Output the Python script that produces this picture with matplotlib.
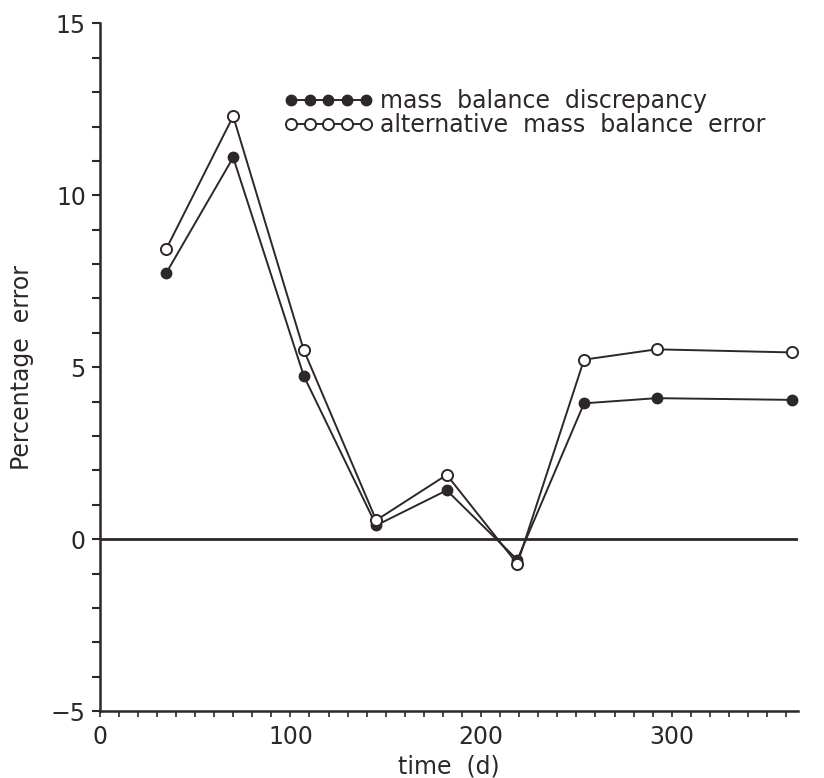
import matplotlib
matplotlib.use("Agg")
import matplotlib.pyplot as plt
from matplotlib.ticker import MultipleLocator

# Data
time_d = [35, 70, 107, 145, 182, 219, 254, 292, 363]
mass_balance_discrepancy = [7.75, 11.1, 4.75, 0.4, 1.42, -0.6, 3.95, 4.1, 4.05]
alternative_mass_balance_error = [8.45, 12.3, 5.5, 0.55, 1.87, -0.72, 5.22, 5.52, 5.43]
series_labels = ["mass  balance  discrepancy", "alternative  mass  balance  error"]
x_label = "time  (d)"
y_label = "Percentage  error"

INK = "#2e2727"
plt.rcParams["font.family"] = ["DejaVu Sans"]

fig = plt.figure(figsize=(8.24, 7.78), dpi=100)
ax = fig.add_axes([0.121, 0.086, 0.847, 0.884])

ax.axhline(0, color=INK, lw=2.0, zorder=1)

ax.plot(time_d, mass_balance_discrepancy, color=INK, lw=1.4, marker="o",
        markersize=7.5, markerfacecolor=INK, markeredgecolor=INK,
        label=series_labels[0], zorder=3)
ax.plot(time_d, alternative_mass_balance_error, color=INK, lw=1.4, marker="o",
        markersize=8, markerfacecolor="white", markeredgecolor=INK,
        markeredgewidth=1.4, label=series_labels[1], zorder=4)

ax.set_xlim(0, 366)
ax.set_ylim(-5, 15)

for s in ["top", "right"]:
    ax.spines[s].set_visible(False)
for s in ["left", "bottom"]:
    ax.spines[s].set_color(INK)
    ax.spines[s].set_linewidth(1.8)

ax.xaxis.set_major_locator(MultipleLocator(100))
ax.xaxis.set_minor_locator(MultipleLocator(10))
ax.yaxis.set_major_locator(MultipleLocator(5))
ax.yaxis.set_minor_locator(MultipleLocator(1))

ax.tick_params(axis="y", which="both", direction="out", length=6, width=1.5,
               color=INK, labelcolor=INK, labelsize=17, pad=4)
ax.tick_params(axis="x", which="both", direction="out", length=4, width=1.2,
               color=INK, labelcolor=INK, labelsize=17, pad=6)

ax.set_xlabel(x_label, fontsize=17, color=INK, labelpad=4)
ax.set_ylabel(y_label, fontsize=17, color=INK, labelpad=12)

leg = ax.legend(loc="upper left", bbox_to_anchor=(0.25, 0.918), frameon=False,
                numpoints=5, handlelength=3.8, handletextpad=0.3,
                labelspacing=0.0, fontsize=17, borderaxespad=0)
for t in leg.get_texts():
    t.set_color(INK)

fig.savefig("out.png", dpi=100, facecolor="white")
